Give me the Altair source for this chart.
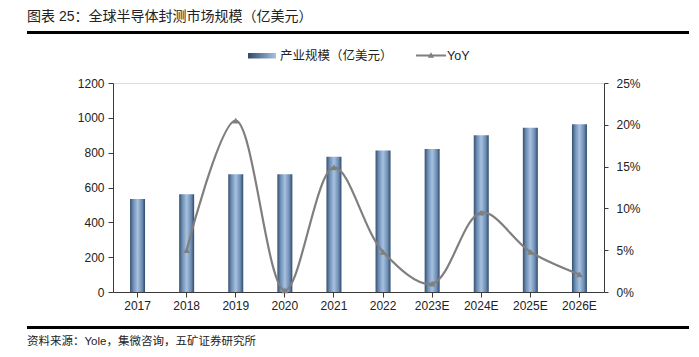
import altair as alt
import pandas as pd

years = ["2017", "2018", "2019", "2020", "2021", "2022", "2023E", "2024E", "2025E", "2026E"]
market = [534, 561, 676, 676, 777, 813, 821, 900, 943, 963]
yoy_years = ["2018", "2019", "2020", "2021", "2022", "2023E", "2024E", "2025E", "2026E"]
yoy = [0.050, 0.205, 0.002, 0.149, 0.048, 0.010, 0.095, 0.048, 0.021]
left_ticks = [0, 200, 400, 600, 800, 1000, 1200]
right_ticks = [0, 0.05, 0.10, 0.15, 0.20, 0.25]

title_text = "图表 25：全球半导体封测市场规模（亿美元）"
bar_name = "产业规模（亿美元）"
line_name = "YoY"
source_text = "资料来源：Yole，集微咨询，五矿证券研究所"

FONT = "Liberation Sans, Arial, Noto Sans CJK SC"
AX = "#3a3a3a"
LBL = "#222222"
GRAY = "#7f7f7f"

bars_df = pd.DataFrame({"year": years, "value": market})
yoy_df = pd.DataFrame({"year": yoy_years, "yoy": yoy})

grad = alt.Gradient(
    gradient="linear",
    stops=[
        alt.GradientStop(color="#34506f", offset=0),
        alt.GradientStop(color="#6f8fb5", offset=0.22),
        alt.GradientStop(color="#a7c1e0", offset=0.5),
        alt.GradientStop(color="#6d8db3", offset=0.8),
        alt.GradientStop(color="#2f4a6a", offset=1),
    ],
    x1=0, x2=1, y1=0, y2=0,
)

xenc = alt.X(
    "year:N", sort=years, title=None,
    scale=alt.Scale(domain=years, paddingInner=0, paddingOuter=0),
    axis=alt.Axis(labelAngle=0, domainColor=AX, tickColor=AX, tickSize=5,
                  labelColor=LBL, labelFontSize=12, labelPadding=3, labelFont=FONT),
)

bars = alt.Chart(bars_df).mark_bar(size=15, color=grad).encode(
    x=xenc,
    y=alt.Y("value:Q", title=None,
            scale=alt.Scale(domain=[0, 1200], nice=False),
            axis=alt.Axis(values=left_ticks, format="d", grid=False, orient="left", domainColor=AX,
                          tickColor=AX, tickSize=5, labelColor=LBL, labelFontSize=12,
                          labelPadding=4, labelFont=FONT)),
)

line = alt.Chart(yoy_df).mark_line(color=GRAY, strokeWidth=2.2, interpolate="catmull-rom").encode(
    x=alt.X("year:N", sort=years, scale=alt.Scale(domain=years)),
    y=alt.Y("yoy:Q", title=None,
            scale=alt.Scale(domain=[0, 0.25], nice=False),
            axis=alt.Axis(values=right_ticks, format=".0%", grid=False, orient="right",
                          domainColor=AX, tickColor=AX, tickSize=4, labelColor=LBL,
                          labelFontSize=12, labelPadding=8, labelFont=FONT)),
)
pts = alt.Chart(yoy_df).mark_point(shape="triangle-up", filled=True, color=GRAY, size=45, opacity=1).encode(
    x=alt.X("year:N", sort=years, scale=alt.Scale(domain=years)),
    y=alt.Y("yoy:Q", scale=alt.Scale(domain=[0, 0.25], nice=False)),
)

one = pd.DataFrame({"k": [0]})

title = alt.Chart(one).mark_text(text=title_text, align="left", baseline="middle",
                                 fontSize=14, font=FONT, color="#222").encode(
    x=alt.value(-86), y=alt.value(-66))
title_rule = alt.Chart(one).mark_rule(color="black", strokeWidth=3).encode(
    x=alt.value(-86), x2=alt.value(576), y=alt.value(-50.5))
foot_rule = alt.Chart(one).mark_rule(color="black", strokeWidth=3).encode(
    x=alt.value(-86), x2=alt.value(576), y=alt.value(244.5))
foot = alt.Chart(one).mark_text(text=source_text, align="left", baseline="middle",
                                fontSize=11.5, font=FONT, color="#222").encode(
    x=alt.value(-86), y=alt.value(259))

leg_rect = alt.Chart(one).mark_rect(color=alt.Gradient(
    gradient="linear",
    stops=[alt.GradientStop(color="#2f4a6a", offset=0),
           alt.GradientStop(color="#a7c1e0", offset=1)],
    x1=0, x2=1, y1=0, y2=0)).encode(
    x=alt.value(135), x2=alt.value(163), y=alt.value(-30), y2=alt.value(-24.5))
leg_text1 = alt.Chart(one).mark_text(text=bar_name, align="left", baseline="middle",
                                     fontSize=12.5, font=FONT, color="#222").encode(
    x=alt.value(167), y=alt.value(-27))
leg_line = alt.Chart(one).mark_rule(color=GRAY, strokeWidth=2).encode(
    x=alt.value(303), x2=alt.value(333), y=alt.value(-27.5))
leg_pt = alt.Chart(one).mark_point(shape="triangle-up", filled=True, color=GRAY, size=40, opacity=1).encode(
    x=alt.value(318), y=alt.value(-28))
leg_text2 = alt.Chart(one).mark_text(text=line_name, align="left", baseline="middle",
                                     fontSize=12.5, font=FONT, color="#222").encode(
    x=alt.value(334), y=alt.value(-27))

main = alt.layer(bars, alt.layer(line, pts)).resolve_scale(y="independent")

chart = alt.layer(
    main, title, title_rule, foot_rule, foot, leg_rect, leg_text1, leg_line, leg_pt, leg_text2
).properties(
    width=491, height=209,
    autosize=alt.AutoSizeParams(type="none"),
    padding={"left": 105, "top": 75, "right": 87, "bottom": 62},
).configure_view(stroke=None).configure(background="white")

chart.save("out.html", embed_options={"renderer": "svg", "actions": False})
